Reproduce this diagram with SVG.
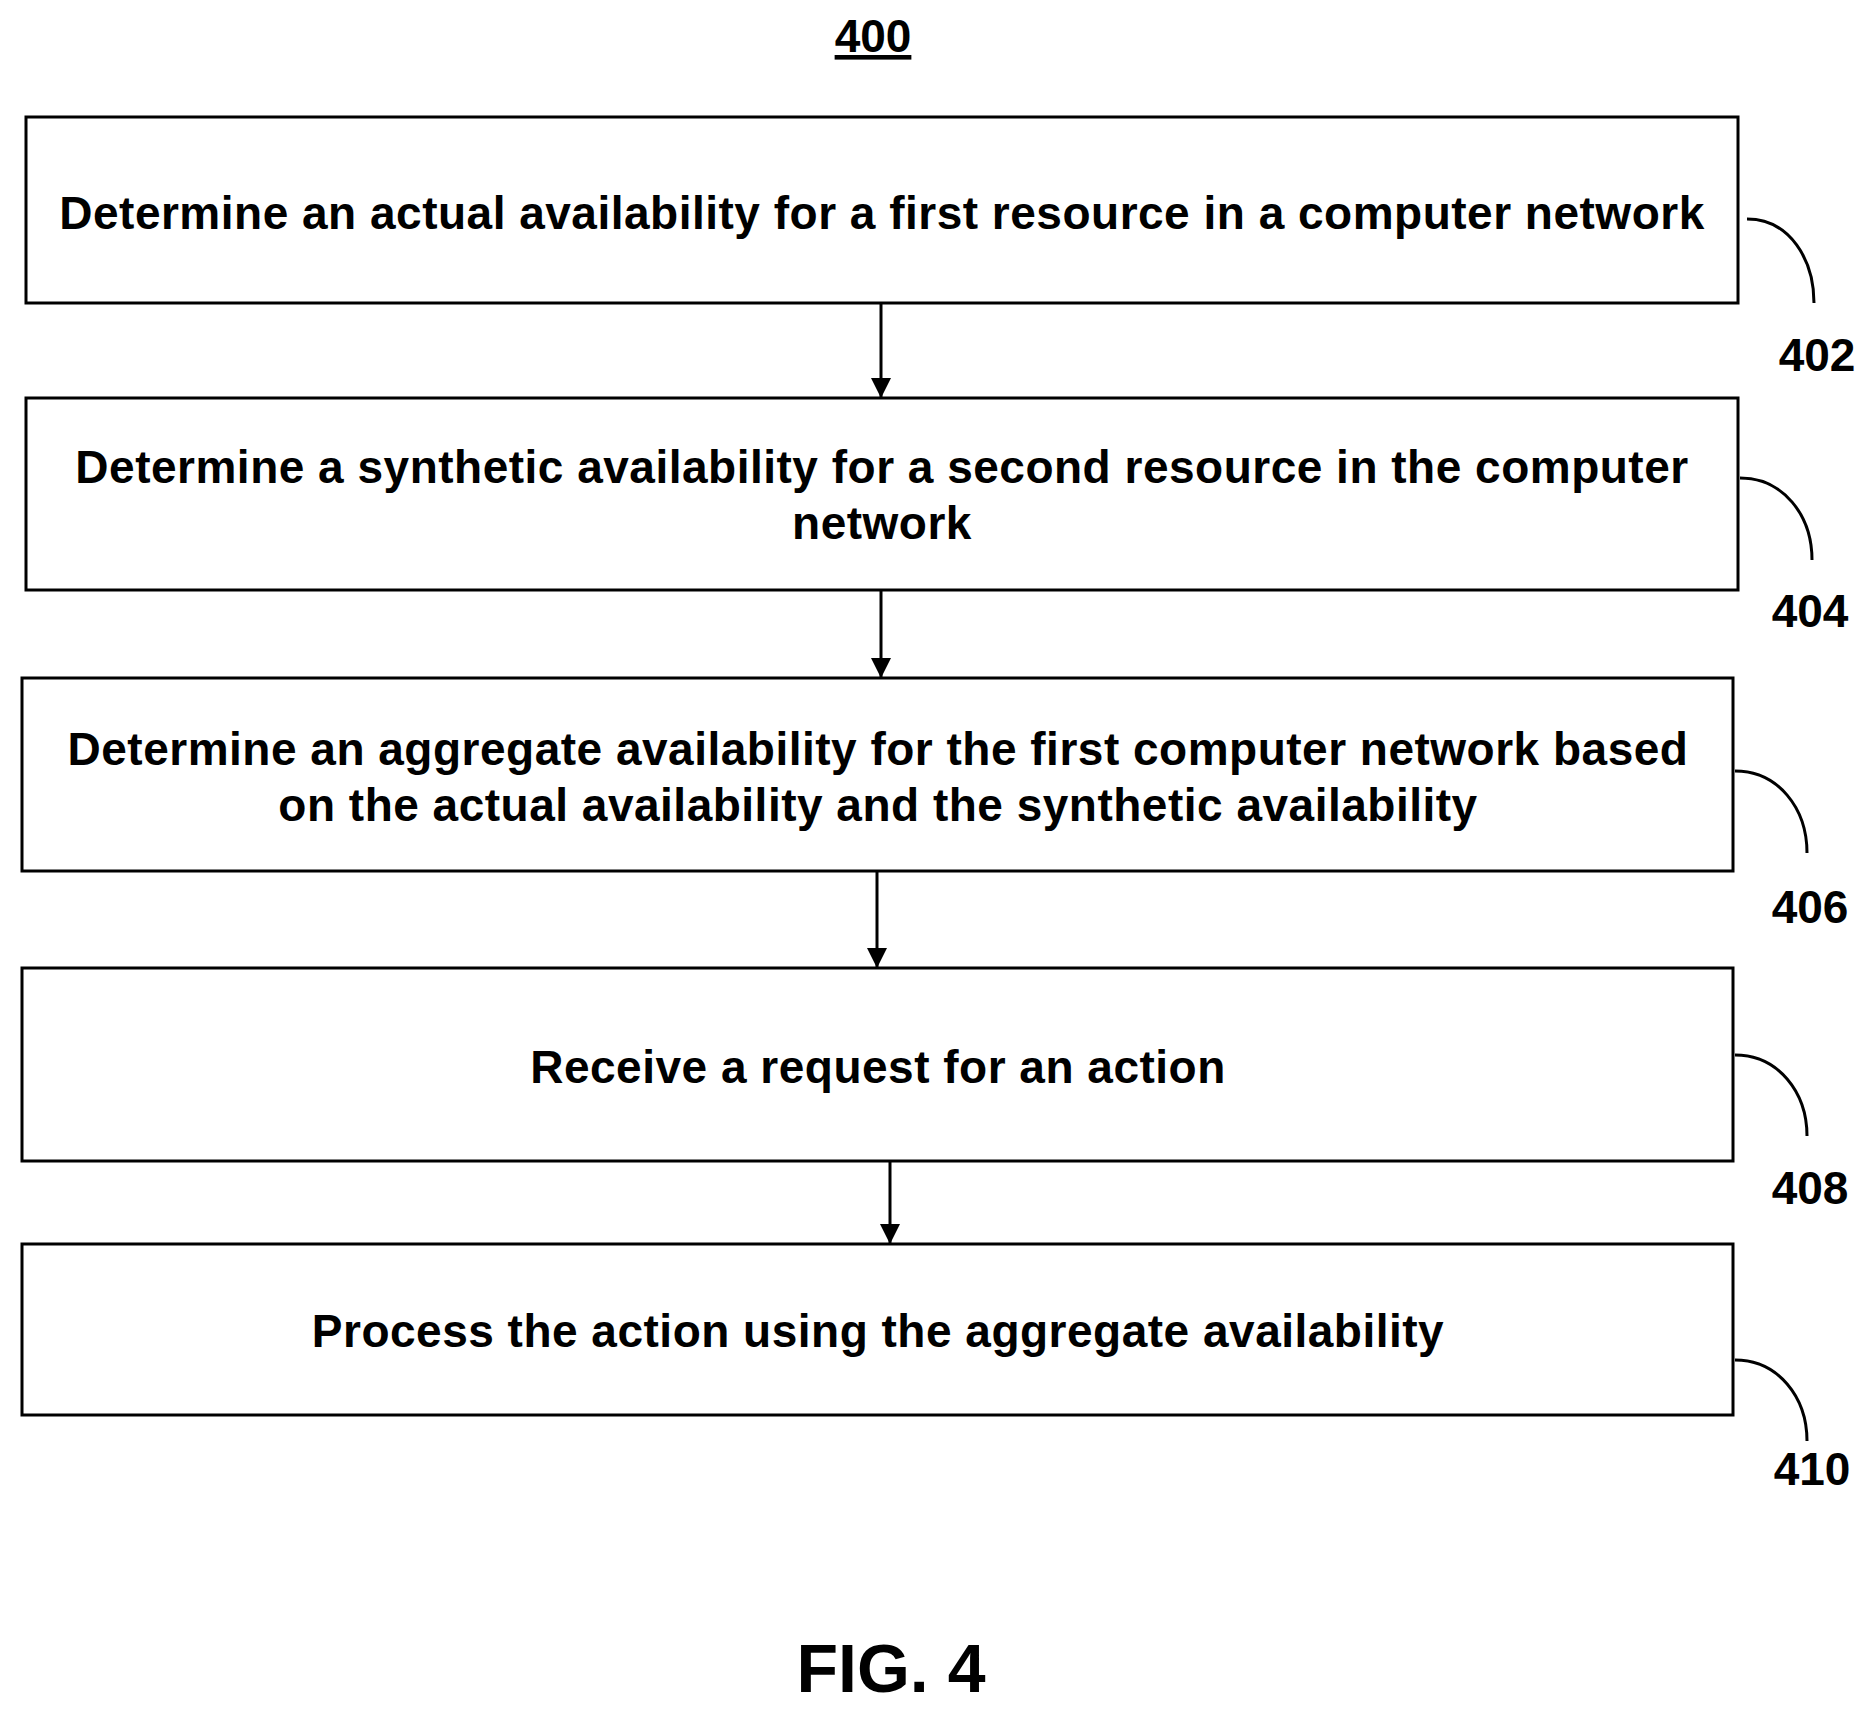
<svg xmlns="http://www.w3.org/2000/svg" width="1875" height="1713" viewBox="0 0 1875 1713">
<style>
.b{fill:#fff;stroke:#000;stroke-width:3}
.t{font-family:"Liberation Sans",Arial,sans-serif;font-weight:bold;font-size:46px;letter-spacing:0.5px;text-anchor:middle;fill:#000}
.c{fill:none;stroke:#000;stroke-width:3}
.l{font-family:"Liberation Sans",Arial,sans-serif;font-weight:bold;font-size:46px;text-anchor:middle}
</style>
<defs><marker id="h" viewBox="0 0 10 10" refX="10" refY="5" markerWidth="24" markerHeight="20" markerUnits="userSpaceOnUse" orient="auto"><path d="M0,0L10,5L0,10z"/></marker></defs>
<text class="l" x="873" y="52" text-decoration="underline">400</text>
<g id="n402"><rect class="b" x="26" y="117" width="1712" height="186"/><text class="t" x="882" y="229">Determine an actual availability for a first resource in a computer network</text></g>
<g id="n404"><rect class="b" x="26" y="398" width="1712" height="192"/><text class="t" x="882" y="483">Determine a synthetic availability for a second resource in the computer</text><text class="t" x="882" y="539">network</text></g>
<g id="n406"><rect class="b" x="22" y="678" width="1711" height="193"/><text class="t" x="878" y="765">Determine an aggregate availability for the first computer network based</text><text class="t" x="878" y="821">on the actual availability and the synthetic availability</text></g>
<g id="n408"><rect class="b" x="22" y="968" width="1711" height="193"/><text class="t" x="878" y="1083">Receive a request for an action</text></g>
<g id="n410"><rect class="b" x="22" y="1244" width="1711" height="171"/><text class="t" x="878" y="1347">Process the action using the aggregate availability</text></g>
<g id="connectors">
<path class="c" d="M881,303V398" marker-end="url(#h)"/>
<path class="c" d="M881,590V678" marker-end="url(#h)"/>
<path class="c" d="M877,871V968" marker-end="url(#h)"/>
<path class="c" d="M890,1161V1244" marker-end="url(#h)"/>
<path class="c" d="M1747,219C1790,219 1814,260 1814,303"/>
<path class="c" d="M1740,478C1783,478 1812,515 1812,560"/>
<path class="c" d="M1735,771C1778,771 1807,808 1807,853"/>
<path class="c" d="M1735,1055C1778,1055 1807,1092 1807,1136"/>
<path class="c" d="M1735,1360C1778,1360 1807,1397 1807,1441"/>
</g>
<text class="l" x="1817" y="371">402</text>
<text class="l" x="1810" y="627">404</text>
<text class="l" x="1810" y="923">406</text>
<text class="l" x="1810" y="1204">408</text>
<text class="l" x="1812" y="1485">410</text>
<text x="891" y="1692" style="font-family:'Liberation Sans',Arial,sans-serif;font-weight:bold;font-size:68px;text-anchor:middle">FIG. 4</text>
</svg>
